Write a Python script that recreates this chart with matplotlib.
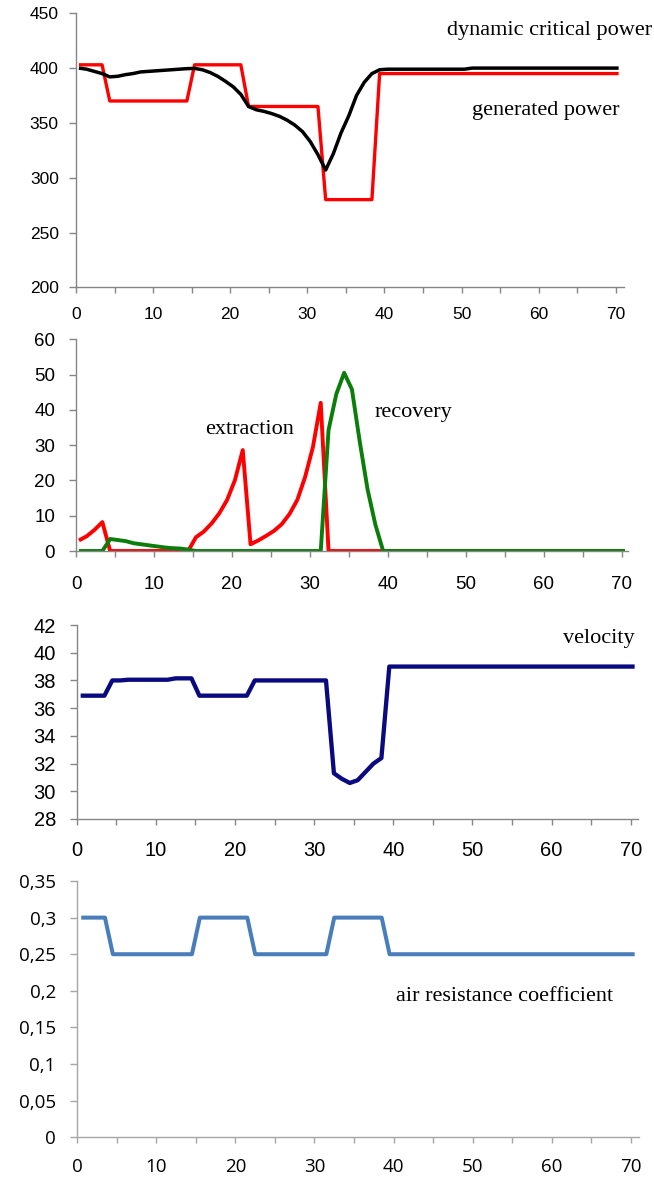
import numpy as np
import matplotlib
matplotlib.use("Agg")
import matplotlib.pyplot as plt
from matplotlib.ticker import FuncFormatter

# time axis (categories 0..70)
t = np.arange(71)

# panel 1: power
generated_power = [403] * 4 + [370] * 11 + [403] * 7 + [365] * 10 + [280] * 7 + [395] * 32
critical_power = [400, 399, 397, 395, 392, 392.5, 394, 395, 396.5, 397,
                  397.5, 398, 398.5, 399, 399.5, 399.7, 398.5, 396, 392.5, 388,
                  383, 376, 365, 362, 360.5, 358.5, 356, 352.5, 348, 342,
                  333, 321, 307, 322, 341, 356.5, 375, 387, 395, 398.5] + [399] * 11 + [400] * 20

# panel 2: extraction / recovery
extraction = [3, 4.2, 6, 8.2] + [0] * 11 + [3.9, 5.5, 7.8, 10.7, 14.5, 20.1, 28.6,
              1.9, 3, 4.3, 5.7, 7.6, 10.5, 14.5, 21, 29.5, 42] + [0] * 39
recovery = [0] * 4 + [3.4, 3.1, 2.8, 2.2, 1.9, 1.6, 1.3, 1.0, 0.8, 0.7, 0.4] + [0] * 17 + \
           [34.3, 44.5, 50.5, 45.8, 31, 17.5, 7.5] + [0] * 32

# panel 3: velocity
velocity = [36.9] * 4 + [38.0] * 2 + [38.05] * 6 + [38.15] * 3 + [36.9] * 7 + [38.0] * 10 + \
           [31.3, 30.9, 30.6, 30.8, 31.4, 32.0, 32.4] + [39.0] * 32

# panel 4: air resistance coefficient
air_coef = [0.3] * 4 + [0.25] * 11 + [0.3] * 7 + [0.25] * 10 + [0.3] * 7 + [0.25] * 32

W, H = 654, 1184
fig = plt.figure(figsize=(W / 100, H / 100), dpi=100)


def px_axes(left, top, right, bottom):
    return fig.add_axes([left / W, 1 - bottom / H, (right - left) / W, (bottom - top) / H])


def style(ax, xmax, ylim, yticks, spine_col, tick_font, tick_size, ypad, xpad, fmt=None):
    for s in ("top", "right"):
        ax.spines[s].set_visible(False)
    for s in ("left", "bottom"):
        ax.spines[s].set_color(spine_col)
        ax.spines[s].set_linewidth(1.0)
    ax.set_xlim(0, xmax)
    ax.set_ylim(*ylim)
    ax.set_yticks(yticks)
    xt = list(range(0, 75, 5))
    ax.set_xticks(xt)
    ax.set_xticklabels([str(v) if v % 10 == 0 else "" for v in xt])
    if fmt is not None:
        ax.yaxis.set_major_formatter(FuncFormatter(fmt))
    ax.tick_params(axis="y", direction="out", length=5, width=1, color=spine_col, pad=ypad)
    ax.tick_params(axis="x", direction="out", length=4.3, width=1, color=spine_col, pad=xpad)
    for lab in ax.get_xticklabels() + ax.get_yticklabels():
        lab.set_fontfamily(tick_font)
        lab.set_fontsize(tick_size)
        lab.set_color("black")


serif = dict(family="Liberation Serif", fontsize=16, color="black")

# ---- panel 1
ax1 = px_axes(76, 13.3, 624.2, 287.3)
ax1.plot(t + 0.38, generated_power, color="#ff0000", lw=2.4, solid_joinstyle="round", solid_capstyle="butt")
ax1.plot(t + 0.38, critical_power, color="black", lw=2.5, solid_joinstyle="round", solid_capstyle="butt")
style(ax1, 71.1, (200, 450), range(200, 451, 50), "#868686", "Liberation Sans", 12.5, 7.4, 10.0)
ax1.text(48.1, 430.2, "dynamic critical power", va="baseline", ha="left", clip_on=False, **serif)
ax1.text(51.3, 357.2, "generated power", va="baseline", ha="left", **serif)

# ---- panel 2
ax2 = px_axes(76, 339.3, 628.2, 551)
ax2.plot(t + 0.38, extraction, color="#ff0000", lw=2.8, solid_joinstyle="round", solid_capstyle="butt")
ax2.plot(t + 0.38, recovery, color="#0a7d0a", lw=2.8, solid_joinstyle="round", solid_capstyle="butt")
style(ax2, 70.8, (0, 60), range(0, 61, 10), "#868686", "Liberation Sans", 13.5, 10, 13.7)
ax2.text(16.6, 33.2, "extraction", va="baseline", ha="left", **serif)
ax2.text(38.3, 38.1, "recovery", va="baseline", ha="left", **serif)

# ---- panel 3
ax3 = px_axes(76.7, 625, 638.3, 819)
ax3.plot(t + 0.5, velocity, color="#0a0a80", lw=3.1, solid_joinstyle="round", solid_capstyle="butt")
style(ax3, 70.96, (28, 42), range(28, 43, 2), "#868686", "Liberation Sans", 14.5, 9.9, 11.3)
ax3.text(61.4, 40.7, "velocity", va="baseline", ha="left", **serif)

# ---- panel 4
ax4 = px_axes(77.3, 881, 639, 1137.3)
ax4.plot(t + 0.5, air_coef, color="#4a7ebb", lw=2.9, solid_joinstyle="round", solid_capstyle="butt")
style(ax4, 71.05, (0, 0.35), np.arange(0, 0.351, 0.05), "#a6a6a6", "Open Sans", 13.5, 10.5, 10.5,
      fmt=lambda v, p: ("%g" % round(v, 2)).replace(".", ","))
ax4.text(40.3, 0.1865, "air resistance coefficient", va="baseline", ha="left", **serif)

fig.savefig("out.png", dpi=100)
